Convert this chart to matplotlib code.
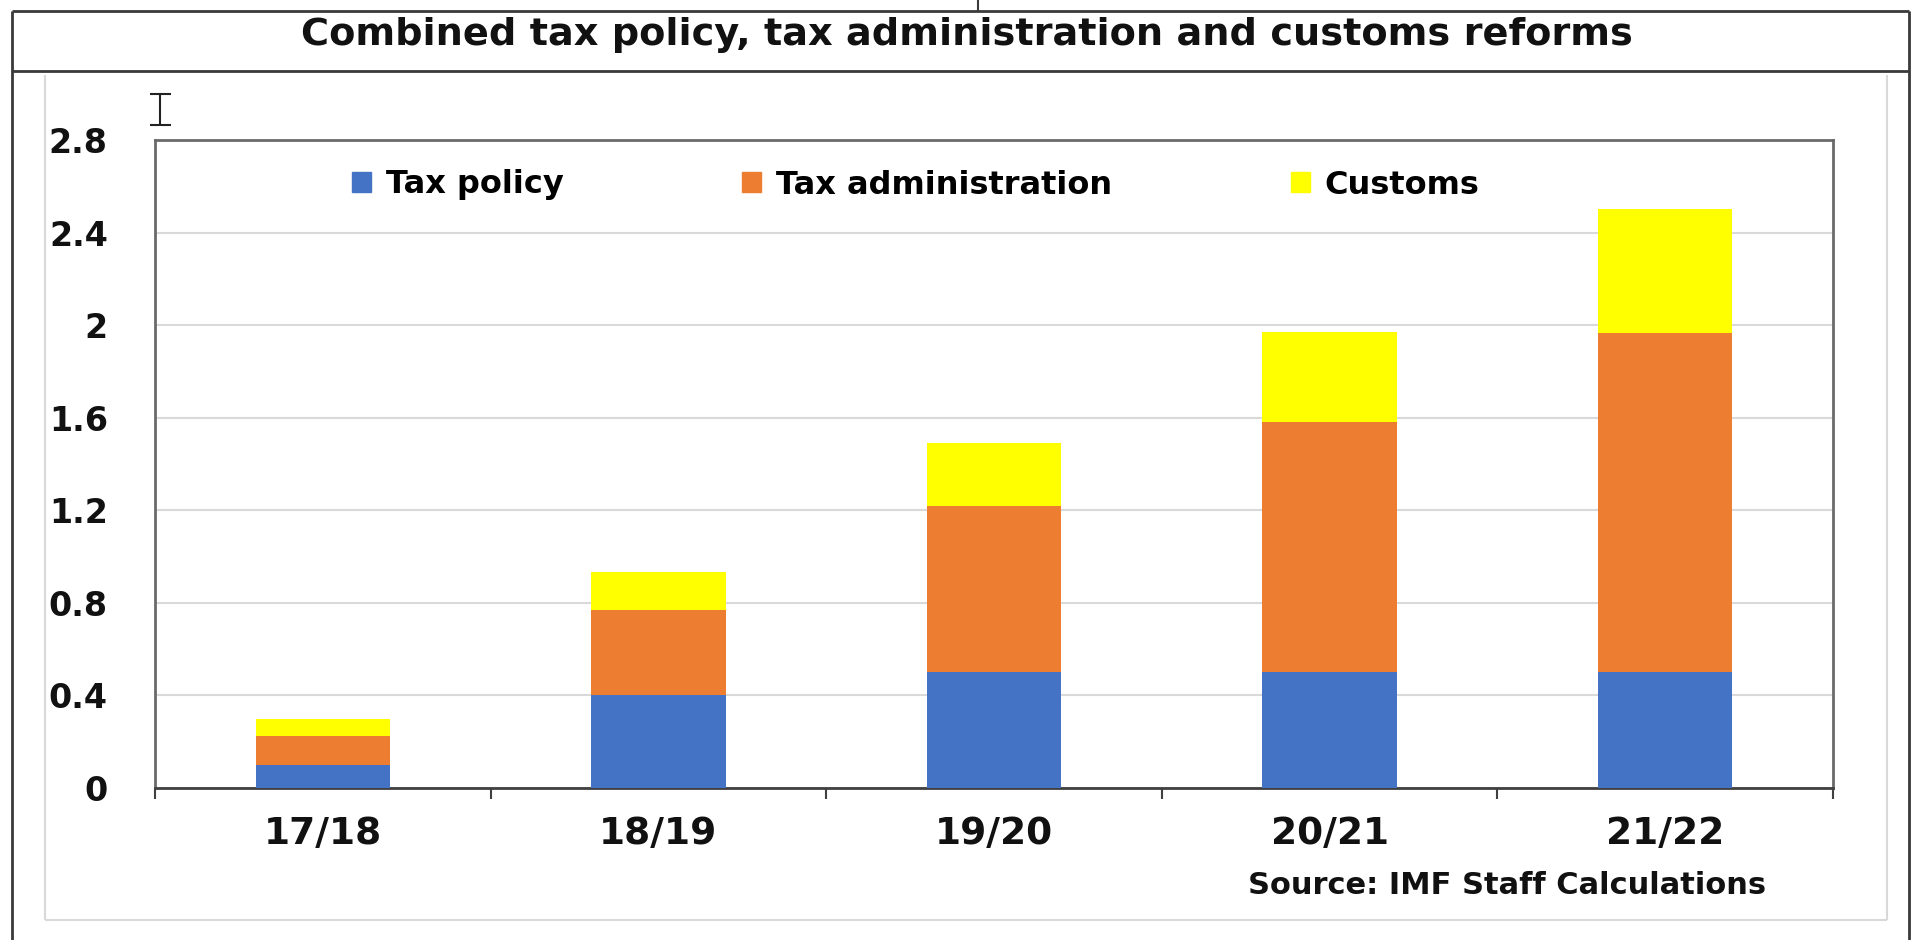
import matplotlib
matplotlib.use("Agg")
import matplotlib.pyplot as plt
from matplotlib.lines import Line2D
from matplotlib.patches import Patch
import numpy as np

plt.rcParams['font.family'] = ['DejaVu Sans']
plt.rcParams['font.weight'] = 'bold'

# data
years = ['17/18', '18/19', '19/20', '20/21', '21/22']
tax_policy = [0.10, 0.40, 0.50, 0.50, 0.50]
tax_admin = [0.125, 0.37, 0.72, 1.08, 1.465]
customs = [0.075, 0.165, 0.27, 0.39, 0.535]
yticks = [0, 0.4, 0.8, 1.2, 1.6, 2, 2.4, 2.8]
ytick_labels = ['0', '0.4', '0.8', '1.2', '1.6', '2', '2.4', '2.8']

W, H = 1916, 940
fig = plt.figure(figsize=(W / 100, H / 100), dpi=100)


def fx(px):
    return px / W


def fy(py):
    return 1 - py / H


def fig_line(x0, y0, x1, y1, color, lw):
    fig.add_artist(Line2D([fx(x0), fx(x1)], [fy(y0), fy(y1)],
                          transform=fig.transFigure, color=color, lw=lw,
                          solid_capstyle='butt'))


# outer frame (spreadsheet cell borders)
dark = '#3a3a3a'
fig_line(12, 11, 1909, 11, dark, 2)
fig_line(12, 71, 1909, 71, dark, 2)
fig_line(12, 11, 12, 940, dark, 2)
fig_line(1909, 11, 1909, 940, dark, 2)
fig_line(978, 0, 978, 11, dark, 1.5)

# light chart-area frame
light = '#d9d9d9'
fig_line(45, 75, 45, 920, light, 1.5)
fig_line(45, 920, 1887, 920, light, 1.5)
fig_line(1887, 75, 1887, 920, light, 1.5)

# text cursor
fig_line(160, 94, 160, 125, '#222222', 1.5)
fig_line(150, 94, 171, 94, '#222222', 1.5)
fig_line(150, 125, 171, 125, '#222222', 1.5)

fig.text(fx(967), fy(35), 'Combined tax policy, tax administration and customs reforms',
         ha='center', va='center', fontsize=27.5, fontweight='bold', color='#111111')

ax = fig.add_axes([fx(155), fy(788), fx(1833) - fx(155), (788 - 140) / H])

x = np.arange(len(years))
c_blue, c_orange, c_yellow = '#4472C4', '#ED7D31', '#FFFF00'
bottom2 = np.array(tax_policy)
bottom3 = bottom2 + np.array(tax_admin)
ax.bar(x, tax_policy, width=0.4, color=c_blue, zorder=3)
ax.bar(x, tax_admin, width=0.4, bottom=bottom2, color=c_orange, zorder=3)
ax.bar(x, customs, width=0.4, bottom=bottom3, color=c_yellow, zorder=3)

ax.set_xlim(-0.5, len(years) - 0.5)
ax.set_ylim(0, 2.8)
ax.set_yticks(yticks)
ax.set_yticklabels(ytick_labels)
ax.yaxis.grid(True, color='#d9d9d9', lw=1.5, zorder=0)
ax.set_axisbelow(True)

ax.set_xticks(x)
ax.set_xticklabels(years)
ax.set_xticks(np.arange(len(years) + 1) - 0.5, minor=True)
ax.tick_params(axis='x', which='major', length=0, pad=20, labelsize=27)
ax.tick_params(axis='x', which='minor', length=8, width=1.5, color='#404040', direction='out')
ax.tick_params(axis='y', length=0, pad=34, labelsize=24)
for lab in ax.get_xticklabels() + ax.get_yticklabels():
    lab.set_fontweight('bold')
    lab.set_color('#111111')

for s in ax.spines.values():
    s.set_color('#6a6a6a')
    s.set_linewidth(2)
ax.spines['bottom'].set_color('#404040')

handles = [Patch(color=c_blue, label='Tax policy'),
           Patch(color=c_orange, label='Tax administration'),
           Patch(color=c_yellow, label='Customs')]
ax.legend(handles=handles, ncol=3, loc='center left',
          bbox_to_anchor=(fx(352), fy(185)), bbox_transform=fig.transFigure,
          frameon=False, borderpad=0, borderaxespad=0,
          handlelength=0.6, handleheight=0.6, handletextpad=0.45,
          columnspacing=5.6, prop={'weight': 'bold', 'size': 23})

fig.text(fx(1766), fy(886), 'Source: IMF Staff Calculations',
         ha='right', va='center', fontsize=22, fontweight='bold', color='#111111')

fig.savefig('out.png', dpi=100)
